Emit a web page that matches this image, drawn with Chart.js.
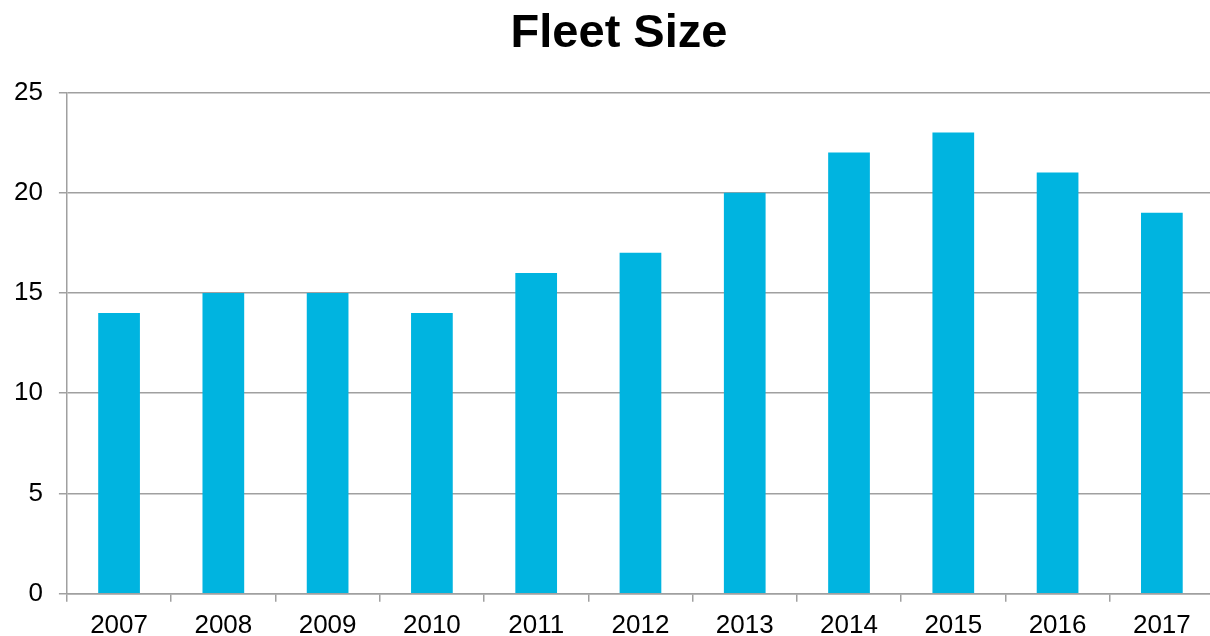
<!DOCTYPE html>
<html>
<head>
<meta charset="utf-8">
<script src="https://cdn.jsdelivr.net/npm/chart.js@4"></script>
<style>
  html, body { margin: 0; padding: 0; background: #fff; overflow: hidden; }
  #wrap { width: 1210px; height: 636px; overflow: hidden; }
</style>
</head>
<body>
<div id="wrap"><canvas id="fleetChart" width="1240" height="636"></canvas></div>
<script>
// data
var years = ['2007', '2008', '2009', '2010', '2011', '2012', '2013', '2014', '2015', '2016', '2017'];
var fleetSize = [14, 15, 15, 14, 16, 17, 20, 22, 23, 21, 19];
var yTicks = [0, 5, 10, 15, 20, 25];

var gridGray = '#a0a0a0';
var font = 'Liberation Sans, Arial, Helvetica, sans-serif';

// canvas is a bit wider than the window so the title centres where the original does,
// an empty right axis keeps the plot ending just past the window edge
var ctx = document.getElementById('fleetChart').getContext('2d');
var chart = new Chart(ctx, {
    type: 'bar',
    data: {
        labels: years,
        datasets: [{
            label: 'Fleet Size',
            data: fleetSize,
            backgroundColor: '#00b4e0',
            borderWidth: 0,
            barPercentage: 0.4,
            categoryPercentage: 1.0
        }]
    },
    options: {
        responsive: false,
        animation: false,
        layout: { padding: { left: -2, right: 0, top: 6, bottom: -13 } },
        plugins: {
            legend: { display: false },
            tooltip: { enabled: false },
            title: {
                display: true,
                text: 'Fleet Size',
                color: '#000',
                font: { family: font, size: 47, weight: 'bold' },
                padding: { top: 0, bottom: 30 }
            }
        },
        scales: {
            x: {
                grid: { drawOnChartArea: false, drawTicks: true, tickLength: 8, color: gridGray, lineWidth: 1.5 },
                border: { color: gridGray, width: 1.5 },
                ticks: { color: '#000', font: { family: font, size: 26 }, padding: 8, maxRotation: 0 }
            },
            y: {
                min: 0,
                max: 25,
                afterBuildTicks: function(axis) {
                    axis.ticks = yTicks.map(function(v) { return { value: v }; });
                },
                grid: { color: gridGray, lineWidth: 1.5, tickLength: 8 },
                border: { color: gridGray, width: 1.5 },
                ticks: { color: '#000', font: { family: font, size: 26 }, padding: 16 }
            },
            spacer: {
                type: 'linear',
                position: 'right',
                grid: { display: false },
                border: { display: false },
                ticks: { display: false },
                afterFit: function(axis) { axis.width = 26; }
            }
        }
    }
});
</script>
</body>
</html>
